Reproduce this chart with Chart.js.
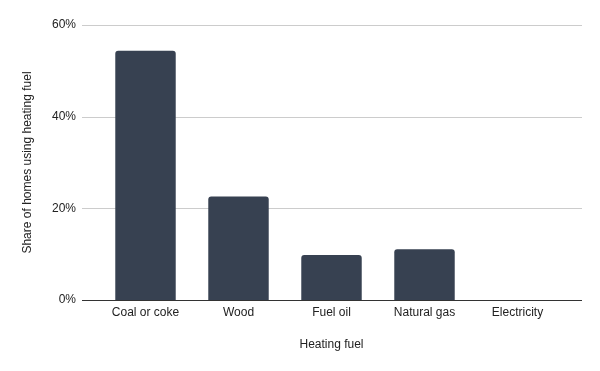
<!DOCTYPE html>
<html>
<head>
<meta charset="utf-8">
<script src="https://cdn.jsdelivr.net/npm/chart.js@4"></script>
<style>
  html, body { margin: 0; padding: 0; background: #fff; }
  #wrap { width: 600px; height: 371px; position: relative; }
</style>
</head>
<body>
<div id="wrap"><canvas id="fuelChart"></canvas></div>
<script>
const fuels = ['Coal or coke', 'Wood', 'Fuel oil', 'Natural gas', 'Electricity'];
const shares = [54.4, 22.6, 9.8, 11.1, 0];
const yTicks = [0, 20, 40, 60];

// gridlines run a bit past the category band, like the original
const extendedGrid = {
    id: 'extendedGrid',
    beforeDatasetsDraw(chart) {
        const { ctx, chartArea, scales } = chart;
        const left = chartArea.left - 17;
        const right = chartArea.right + 18;
        ctx.save();
        yTicks.forEach(v => {
            const y = Math.round(scales.y.getPixelForValue(v)) + 0.5;
            ctx.beginPath();
            ctx.strokeStyle = v === 0 ? '#333333' : '#cccccc';
            ctx.lineWidth = 1;
            ctx.moveTo(left, y);
            ctx.lineTo(right, y);
            ctx.stroke();
        });
        ctx.restore();
    }
};

const font = { family: '"Liberation Sans", Arial, sans-serif', size: 12 };

new Chart(document.getElementById('fuelChart').getContext('2d'), {
    type: 'bar',
    data: {
        labels: fuels,
        datasets: [{
            data: shares,
            backgroundColor: '#374151',
            borderRadius: { topLeft: 3, topRight: 3 },
            borderSkipped: 'bottom',
            categoryPercentage: 1,
            barPercentage: 0.65
        }]
    },
    options: {
        responsive: true,
        maintainAspectRatio: false,
        animation: false,
        layout: { padding: { top: 25, right: 36, bottom: 0, left: 0 } },
        plugins: { legend: { display: false }, tooltip: { enabled: false } },
        scales: {
            x: {
                grid: { display: false, drawTicks: false },
                border: { display: false },
                ticks: { font: font, color: '#222222', padding: 5, maxRotation: 0 },
                title: { display: true, text: 'Heating fuel', font: font, color: '#222222', padding: 19 },
                afterFit: s => { s.height = 71; }
            },
            y: {
                min: 0,
                max: 60,
                grid: { display: false, drawTicks: false },
                border: { display: false },
                afterBuildTicks: s => { s.ticks = yTicks.map(v => ({ value: v })); },
                ticks: { font: font, color: '#222222', padding: 23, callback: v => v + '%' },
                title: { display: true, text: 'Share of homes using heating fuel', font: font, color: '#222222', padding: 20 },
                afterFit: s => {
                    s.width = 99;
                    s.paddingTop = 8;
                    s.paddingBottom = 8;
                }
            }
        }
    },
    plugins: [extendedGrid]
});
</script>
</body>
</html>
